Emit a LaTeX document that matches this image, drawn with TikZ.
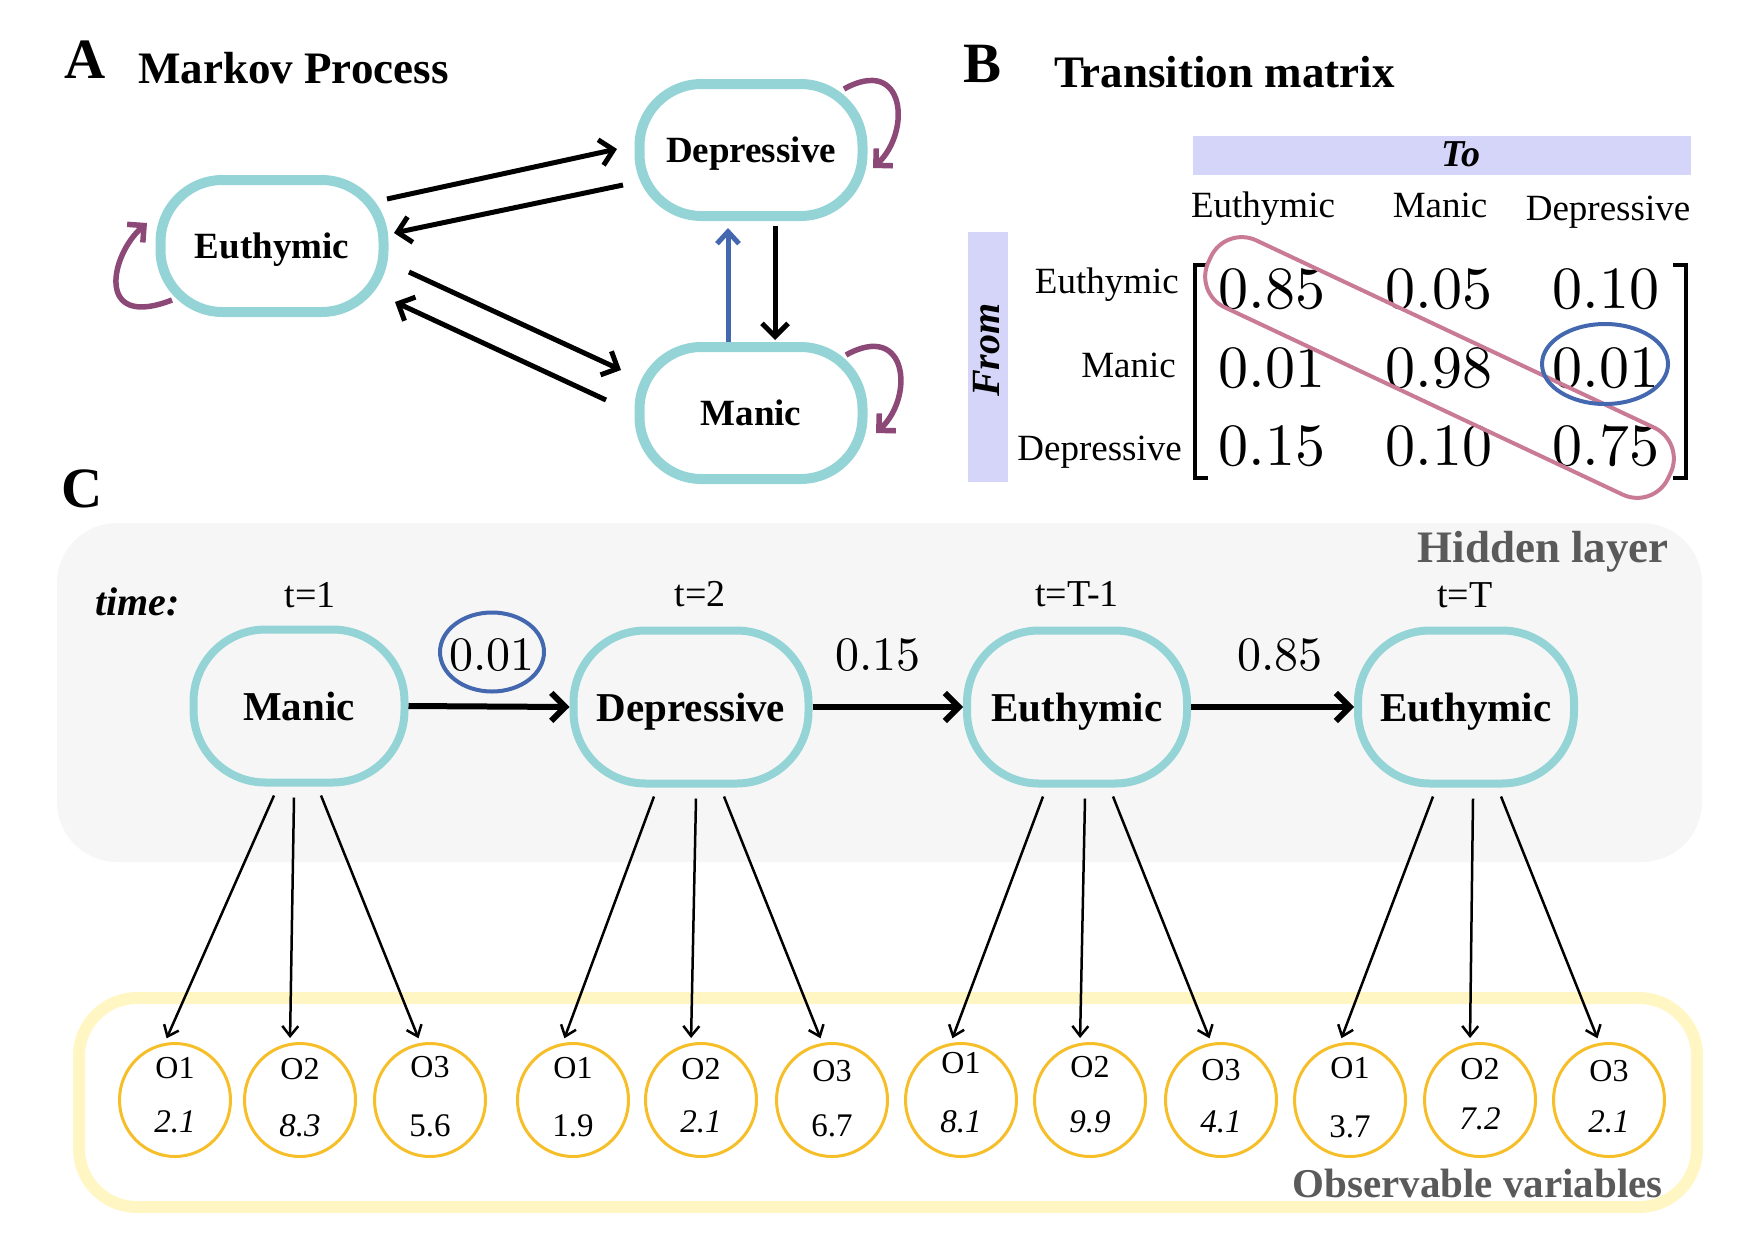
\documentclass[tikz,border=0pt]{standalone}
\usepackage{fontspec}
\newfontfamily\tnr{Liberation Serif}
\newfontfamily\lmten[Extension=.otf]{lmroman10-regular}
\usetikzlibrary{arrows.meta,calc,shapes.geometric}
\definecolor{nodecy}{RGB}{148,212,214}
\definecolor{loopc}{RGB}{140,72,118}
\definecolor{blu}{RGB}{68,104,176}
\definecolor{pinkb}{RGB}{201,123,150}
\definecolor{lav}{RGB}{213,213,250}
\definecolor{hidbg}{RGB}{246,246,246}
\definecolor{obsbg}{RGB}{255,246,196}
\definecolor{obsc}{RGB}{246,190,40}
\definecolor{grayt}{RGB}{90,90,90}
\newcommand\fsz[1]{\fontsize{#1}{#1}\selectfont}
\begin{document}
\begin{tikzpicture}[x=1pt,y=-1pt,
  stA/.style={draw=nodecy, line width=10pt, rounded corners=62pt, minimum width=223pt, minimum height=132pt, inner sep=0pt, text depth=0pt, font=\tnr\bfseries\fsz{37}},
  stC/.style={draw=nodecy, line width=8pt, rounded corners=72pt, minimum height=153pt, inner sep=0pt, text depth=0pt, font=\tnr\bfseries\fsz{41}},
  arrA/.style={-{Straight Barb[length=13pt,width=26pt]}, line width=5pt},
  loopA/.style={-{Straight Barb[length=12pt,width=24pt]}, line width=5.5pt, draw=loopc},
  arrC/.style={-{Straight Barb[length=14pt,width=28pt]}, line width=6pt},
  emit/.style={-{Straight Barb[length=10pt,width=16pt]}, line width=2.5pt, shorten >=4pt},
  obs/.style={ellipse, draw=obsc, line width=3pt, minimum width=111pt, minimum height=113pt, inner sep=0pt},
  lbl/.style={inner sep=0pt, anchor=base},
  num/.style={inner sep=0pt, anchor=base, font=\lmten\fsz{60}},
  hdr/.style={inner sep=0pt, anchor=base, font=\tnr\fsz{37}}
]
\useasboundingbox (0,0) rectangle (1748,1240);

% ---------------- Panel A ----------------
\node[lbl, anchor=base west, font=\tnr\bfseries\fsz{57}] (labA) at (64,78) {A};
\node[lbl, anchor=base west, font=\tnr\bfseries\fsz{45}] (titA) at (138,83) {Markov Process};

\node[stA] (eA) at (272,246) {Euthymic};
\node[stA] (dA) at (751,150) {Depressive};
\node[stA] (mA) at (751,413) {Manic};

\draw[arrA] ($(eA)+(115,-47)$) -- ($(dA)+(-134,-1)$);
\draw[arrA] ($(dA)+(-128,35)$) -- ($(eA)+(122,-13)$);
\draw[arrA] ($(eA)+(137,26)$) -- ($(mA)+(-130,-43)$);
\draw[arrA] ($(mA)+(-145,-13)$) -- ($(eA)+(123,56)$);
\draw[arrA, draw=blu, -{Straight Barb[length=12pt,width=22pt]}, line width=5pt] ($(mA)+(-23,-71)$) -- ($(dA)+(-23,78)$);
\draw[arrA] ($(dA)+(24,76)$) -- ($(mA)+(24,-73)$);

\draw[loopA] ($(eA)+(-100,54)$) .. controls +(-77,30) and +(-37,32) .. ($(eA)+(-125,-23)$);
\draw[loopA] ($(dA)+(93,-61)$) .. controls +(61,-34) and +(39,-37) .. ($(dA)+(122,18)$);
\draw[loopA] ($(mA)+(95,-58)$) .. controls +(61,-34) and +(39,-37) .. ($(mA)+(125,20)$);

% ---------------- Panel B ----------------
\node[lbl, anchor=base west, font=\tnr\bfseries\fsz{57}] (labB) at (963,82) {B};
\node[lbl, anchor=base west, font=\tnr\bfseries\fsz{45}] (titB) at (1054,87) {Transition matrix};

\node[fill=lav, minimum width=498pt, minimum height=39pt, inner sep=0pt] (tobar) at (1442,155.5) {};
\node[lbl, font=\tnr\bfseries\itshape\fsz{38}] (to) at (1461,166) {To};
\node[fill=lav, minimum width=40pt, minimum height=250pt, inner sep=0pt] (frombar) at (988,357) {};
\node[inner sep=0pt, rotate=90, font=\tnr\bfseries\itshape\fsz{40}] (from) at (987,350) {From};

\node[hdr] (ch1) at (1263,217) {Euthymic};
\node[hdr] (ch2) at (1440,217) {Manic};
\node[hdr] (ch3) at (1608,220) {Depressive};
\node[hdr, anchor=base east] (rh1) at (1179,293) {Euthymic};
\node[hdr, anchor=base east] (rh2) at (1176,377) {Manic};
\node[hdr, anchor=base east] (rh3) at (1182,460) {Depressive};

\node[num] (m11) at (1272,308) {0.85};
\node[num] (m12) at (1439,308) {0.05};
\node[num] (m13) at (1606,308) {0.10};
\node[num] (m21) at (1272,387) {0.01};
\node[num] (m22) at (1439,387) {0.98};
\node[num] (m23) at (1606,387) {0.01};
\node[num] (m31) at (1272,465) {0.15};
\node[num] (m32) at (1439,465) {0.10};
\node[num] (m33) at (1606,465) {0.75};

\draw[line width=4pt] (1208,265) -- (1195,265) -- (1195,478) -- (1208,478);
\draw[line width=4pt] (1673,265) -- (1686,265) -- (1686,478) -- (1673,478);

\node[draw=pinkb, line width=4pt, rounded corners=34pt, minimum width=508pt, minimum height=74pt, inner sep=0pt, rotate=-25.2] (band) at (1439.5,367.5) {};
\node[draw=blu, ellipse, line width=4pt, minimum width=126pt, minimum height=80pt, inner sep=0pt] (sel) at (1605,364) {};

% ---------------- Panel C ----------------
\node[lbl, anchor=base west, font=\tnr\bfseries\fsz{57}] (labC) at (61,507) {C};

\node[fill=hidbg, rounded corners=60pt, minimum width=1645pt, minimum height=339pt, inner sep=0pt] (hid) at (879.5,692.5) {};
\draw[obsbg, line width=12pt, rounded corners=58pt] (79,998) rectangle (1697,1207);

\node[lbl, anchor=base east, font=\tnr\bfseries\fsz{45}, text=grayt] (hidlab) at (1669,562) {Hidden layer};
\node[lbl, anchor=base east, font=\tnr\bfseries\fsz{41}, text=grayt] (obslab) at (1663,1197) {Observable variables};

\node[lbl, anchor=base west, font=\tnr\bfseries\itshape\fsz{40}] (time) at (95,615) {time:};
\node[lbl, font=\tnr\fsz{38}] (t1) at (310,607) {t=1};
\node[lbl, font=\tnr\fsz{38}] (t2) at (700,606) {t=2};
\node[lbl, font=\tnr\fsz{38}] (t3) at (1077,606) {t=T-1};
\node[lbl, font=\tnr\fsz{38}] (t4) at (1465,607) {t=T};

\node[stC, minimum width=211pt] (h1) at (299,706) {Manic};
\node[stC, minimum width=235pt] (h2) at (691,707) {Depressive};
\node[stC, minimum width=220pt] (h3) at (1077,707) {Euthymic};
\node[stC, minimum width=216pt] (h4) at (1466,707) {Euthymic};

\draw[arrC] (h1.east) -- (h2.west);
\draw[arrC] (h2.east) -- (h3.west);
\draw[arrC] (h3.east) -- (h4.west);

\node[draw=blu, ellipse, line width=4pt, minimum width=104pt, minimum height=79pt, inner sep=0pt] (p1e) at (492,652) {};
\node[lbl, font=\lmten\fsz{48}] (p1) at (492,670) {0.01};
\node[lbl, font=\lmten\fsz{48}] (p2) at (878,670) {0.15};
\node[lbl, font=\lmten\fsz{48}] (p3) at (1280,670) {0.85};

\foreach \i/\x/\ol/\ob/\v/\vb/\sh in {
  1/175/O1/1078/2.1/1132/it, 2/300/O2/1079/8.3/1136/it, 3/430/O3/1077/5.6/1136/n,
  4/573/O1/1078/1.9/1136/n, 5/701/O2/1079/2.1/1132/it, 6/832/O3/1081/6.7/1136/n,
  7/961/O1/1073/8.1/1132/it, 8/1090/O2/1077/9.9/1132/it, 9/1221/O3/1080/4.1/1132/it,
  10/1350/O1/1078/3.7/1137/n, 11/1480/O2/1079/7.2/1129/it, 12/1609/O3/1081/2.1/1132/it} {
  \node[obs] (o\i) at (\x,1100) {};
  \node[lbl, font=\tnr\fsz{32}] (ol\i) at (\x,\ob) {\ol};
  \node[lbl, font=\tnr\fsz{33}\fontshape{\sh}\selectfont] (ov\i) at (\x,\vb) {\v};
}

\foreach \h/\a/\b/\c/\p/\q/\r in {1/-25/-5/22/1/2/3, 2/-37/5/33/4/5/6, 3/-34/8/36/7/8/9, 4/-33/7/35/10/11/12} {
  \draw[emit] ([xshift=\a,yshift=-9]h\h.south) -- ([xshift=-10]o\p.north);
  \draw[emit] ([xshift=\b,yshift=-11]h\h.south) -- ([xshift=-10]o\q.north);
  \draw[emit] ([xshift=\c,yshift=-9]h\h.south) -- ([xshift=-10]o\r.north);
}
\end{tikzpicture}
\end{document}
